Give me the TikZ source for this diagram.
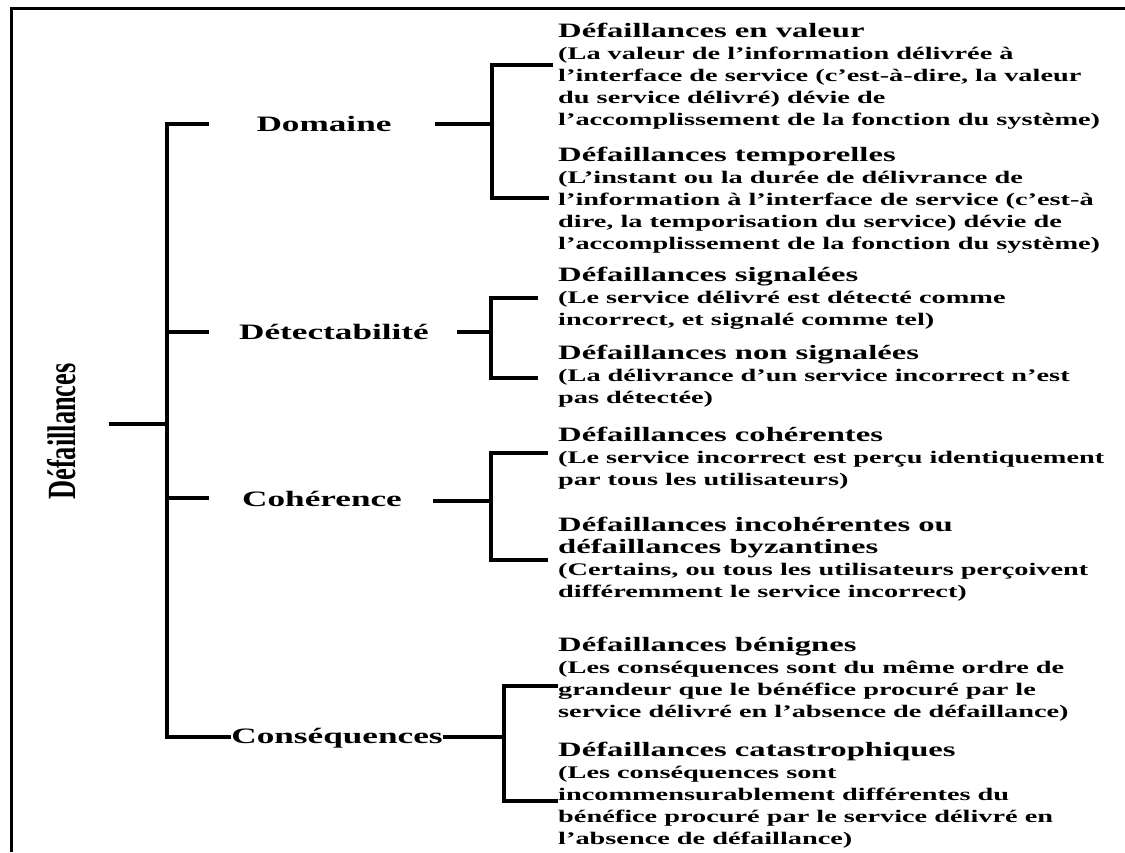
\documentclass[tikz,border=0pt]{standalone}
\usepackage{fontspec}
\setmainfont{Liberation Serif}
\newfontfamily\widefont{Liberation Serif}[FakeStretch=1.6]
\newfontfamily\narrowfont{Liberation Serif}[FakeStretch=0.66]
\newcommand\catsize{\widefont\bfseries\fontsize{22}{26}\selectfont}
\newcommand\leafsize{\widefont\bfseries\fontsize{17.7}{22}\selectfont\lineskiplimit=-100pt\lineskip=0pt}
\newcommand\leaftitle{\fontsize{20.4}{22}\selectfont}
\newcommand\firstline{\rule{0pt}{16pt}}

\begin{document}
\begin{tikzpicture}[x=1pt,y=-1pt,
  tree/.style={line width=3.6pt},
  framerule/.style={line width=2.2pt},
  cat/.style={font=\catsize, inner sep=0pt, anchor=base},
  leaf/.style={font=\leafsize, align=left, inner sep=0pt, anchor=north west},
  rootlbl/.style={font=\narrowfont\bfseries\fontsize{40}{44}\selectfont,
                  rotate=90, inner sep=0pt, anchor=base}]

\useasboundingbox (0,0) rectangle (1125,852);
\fill[white] (0,0) rectangle (1125,852);
% open frame: left and top rules only
\draw[framerule] (11.5,852) -- (11.5,8.5) -- (1125,8.5);

% root and the four criteria
\node[rootlbl] (root) at (75.5,431.5) {Défaillances};
\node[cat] (dom) at (324,131) {Domaine};
\node[cat] (det) at (334,339) {Détectabilité};
\node[cat] (coh) at (322,506) {Cohérence};
\node[cat] (con) at (337,743) {Conséquences};

% failure classes
\node[leaf] (val) at (558,21) {\firstline{\leaftitle Défaillances en valeur}\\
(La valeur de l’information délivrée à\\
l’interface de service (c’est-à-dire, la valeur\\
du service délivré) dévie de\\
l’accomplissement de la fonction du système)};
\node[leaf] (tmp) at (558,145) {\firstline{\leaftitle Défaillances temporelles}\\
(L’instant ou la durée de délivrance de\\
l’information à l’interface de service (c’est-à\\
dire, la temporisation du service) dévie de\\
l’accomplissement de la fonction du système)};
\node[leaf] (sig) at (558,265) {\firstline{\leaftitle Défaillances signalées}\\
(Le service délivré est détecté comme\\
incorrect, et signalé comme tel)};
\node[leaf] (nsig) at (558,343) {\firstline{\leaftitle Défaillances non signalées}\\
(La délivrance d’un service incorrect n’est\\
pas détectée)};
\node[leaf] (cohl) at (558,425) {\firstline{\leaftitle Défaillances cohérentes}\\
(Le service incorrect est perçu identiquement\\
par tous les utilisateurs)};
\node[leaf] (byz) at (558,515) {\firstline{\leaftitle Défaillances incohérentes ou}\\
{\leaftitle défaillances byzantines}\\
(Certains, ou tous les utilisateurs perçoivent\\
différemment le service incorrect)};
\node[leaf] (ben) at (558,635) {\firstline{\leaftitle Défaillances bénignes}\\
(Les conséquences sont du même ordre de\\
grandeur que le bénéfice procuré par le\\
service délivré en l’absence de défaillance)};
\node[leaf] (cat) at (558,740) {\firstline{\leaftitle Défaillances catastrophiques}\\
(Les conséquences sont\\
incommensurablement différentes du\\
bénéfice procuré par le service délivré en\\
l’absence de défaillance)};

% trunk and its branches
\coordinate (rootJ) at (167,424);
\coordinate (tDe) at (167,332);
\coordinate (tC) at (167,498);
\coordinate (tCo) at (167,737);
\coordinate (bD) at (209,124);
\coordinate (bDe) at (209,332);
\coordinate (bC) at (209,498);
\draw[tree, shorten <=32.5pt] (root.south |- rootJ) -- (rootJ);
\draw[tree] (bD) -| (tCo) -- (con.west |- tCo);
\draw[tree] (tDe) -- (bDe);
\draw[tree] (tC) -- (bC);

% brackets towards the failure classes
\coordinate (jD) at (492,124);
\coordinate (vD1) at (553,65);
\coordinate (vD2) at (549,198);
\draw[tree, shorten <=43pt] (dom.east |- jD) -- (jD);
\draw[tree] (vD1) -| (jD) |- (vD2);

\coordinate (jDe) at (491,332);
\coordinate (vDe1) at (538,298);
\coordinate (vDe2) at (538,378);
\draw[tree, shorten <=28pt] (det.east |- jDe) -- (jDe);
\draw[tree] (vDe1) -| (jDe) |- (vDe2);

\coordinate (jC) at (491,501);
\coordinate (vC1) at (548,453);
\coordinate (vC2) at (548,560);
\draw[tree, shorten <=31pt] (coh.east |- jC) -- (jC);
\draw[tree] (vC1) -| (jC) |- (vC2);

\coordinate (jCo) at (504,737);
\coordinate (vCo1) at (558,686);
\coordinate (vCo2) at (558,801);
\draw[tree] (con.east |- jCo) -- (jCo);
\draw[tree] (vCo1) -| (jCo) |- (vCo2);
\end{tikzpicture}
\end{document}
